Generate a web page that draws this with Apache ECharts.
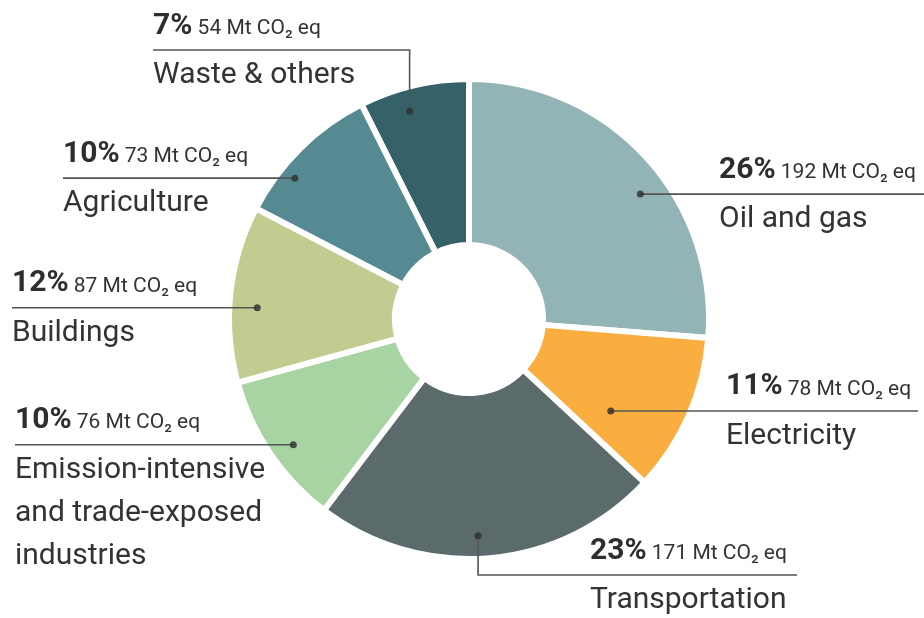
<!DOCTYPE html>
<html>
<head>
<meta charset="utf-8">
<script src="https://cdn.jsdelivr.net/npm/echarts@6/dist/echarts.min.js"></script>
<style>html,body{margin:0;padding:0;background:#fff}#c{width:924px;height:618px}</style>
</head>
<body>
<div id="c"></div>
<script>
// ---- data ----
const categories = ['Oil and gas', 'Electricity', 'Transportation',
  'Emission-intensive\nand trade-exposed\nindustries', 'Buildings', 'Agriculture', 'Waste & others'];
const emissions = [192, 78, 171, 76, 87, 73, 54]; // Mt CO2 eq
const unitLabel = 'Mt CO₂ eq';

// ---- styles / layout ----
const colors = ['#93b4b6', '#f9ae3f', '#5b6b6c', '#a8d3a2', '#c2cc91', '#568a93', '#356169'];
const CX = 469, CY = 319, R_IN = 74, R_OUT = 240;
// leader-line anchor inside each slice: fraction along slice, radius px
const anchorFrac = [0.57, 0.74, 0.53, 0.46, 0.43, 0.32, 0.40];
const anchorR = [212, 169, 217, 216, 212, 224, 216];
// label text x, line end x (right-side labels), bend y (labels with elbow)
const labelX = [719, 726, 590, 15, 12, 63, 153];
const lineEndX = [924, 918, 797, null, null, null, null];
const bendY = [null, null, 575, null, null, null, 50];
const LINE_OFFSET = 39; // label top -> separator line

const total = emissions.reduce((a, b) => a + b, 0);
const cum = [];
emissions.reduce((acc, v, i) => { cum[i] = acc; return acc + v; }, 0);
const anchorAngle = emissions.map((v, i) => cum[i] + anchorFrac[i] * v);
function anchorPx(i) {
  const t = anchorAngle[i] / total * 2 * Math.PI;
  return [CX + anchorR[i] * Math.sin(t), CY - anchorR[i] * Math.cos(t)];
}

const pieData = categories.map((c, i) => ({ name: c, value: emissions[i] }));

const chart = echarts.init(document.getElementById('c'));
chart.setOption({
  backgroundColor: '#fff',
  animation: false,
  textStyle: { fontFamily: 'Roboto' },
  polar: { center: [CX, CY], radius: R_OUT },
  angleAxis: { type: 'value', min: 0, max: total, startAngle: 90, clockwise: true, show: false },
  radiusAxis: { type: 'value', min: 0, max: R_OUT, show: false },
  series: [{
    // coloured slices
    type: 'pie',
    z: 2,
    center: [CX, CY],
    radius: [R_IN, R_OUT],
    startAngle: 90,
    clockwise: true,
    silent: true,
    label: { show: false },
    labelLine: { show: false },
    itemStyle: { borderColor: '#fff', borderWidth: 6 },
    data: pieData.map((d, i) => ({ ...d, itemStyle: { color: colors[i] } }))
  }, {
    // transparent overlay carrying labels + leader lines above the slices
    type: 'pie',
    z: 4,
    center: [CX, CY],
    radius: [R_IN, R_OUT],
    startAngle: 90,
    clockwise: true,
    silent: true,
    avoidLabelOverlap: false,
    itemStyle: { color: 'rgba(0,0,0,0)', borderWidth: 0 },
    data: pieData,
    label: {
      show: true,
      position: 'outside',
      color: '#333',
      formatter: p => {
        const pct = Math.round(p.value / total * 100);
        const name = p.name.split('\n').map(s => '{n|' + s + '}').join('\n');
        return '{p|' + pct + '%}{v| ' + p.value + ' ' + unitLabel + '}{g| }\n' + name;
      },
      rich: {
        p: { fontFamily: 'Roboto', fontWeight: 'bold', fontSize: 30, color: '#2e2e2e', lineHeight: 33, verticalAlign: 'top', padding: [0, 0, 0, 0] },
        v: { fontFamily: 'Roboto', fontSize: 21, color: '#333', lineHeight: 33, verticalAlign: 'top', padding: [7, 0, 0, 0] },
        g: { fontSize: 1, lineHeight: 43 },
        n: { fontFamily: 'Roboto', fontSize: 30, color: '#333', lineHeight: 43 }
      }
    },
    labelLine: { show: true, length: 0, length2: 0, lineStyle: { color: '#555', width: 1.6 } },
    labelLayout: params => {
      const i = params.dataIndex;
      const a = anchorPx(i);
      let lineY, pts;
      const endX = lineEndX[i] != null ? lineEndX[i] : labelX[i];
      if (bendY[i] != null) {
        lineY = bendY[i];
        pts = [a, [a[0], lineY], [endX, lineY]];
      } else {
        lineY = a[1];
        pts = [a, [(a[0] + endX) / 2, lineY], [endX, lineY]];
      }
      return { x: labelX[i], y: lineY - LINE_OFFSET, align: 'left', verticalAlign: 'top', labelLinePoints: pts };
    }
  }, {
    // anchor dots
    type: 'scatter',
    coordinateSystem: 'polar',
    symbolSize: 7,
    z: 6,
    silent: true,
    itemStyle: { color: '#2e2e2e' },
    data: anchorAngle.map((ang, i) => [anchorR[i], ang])
  }]
});
</script>
</body>
</html>
